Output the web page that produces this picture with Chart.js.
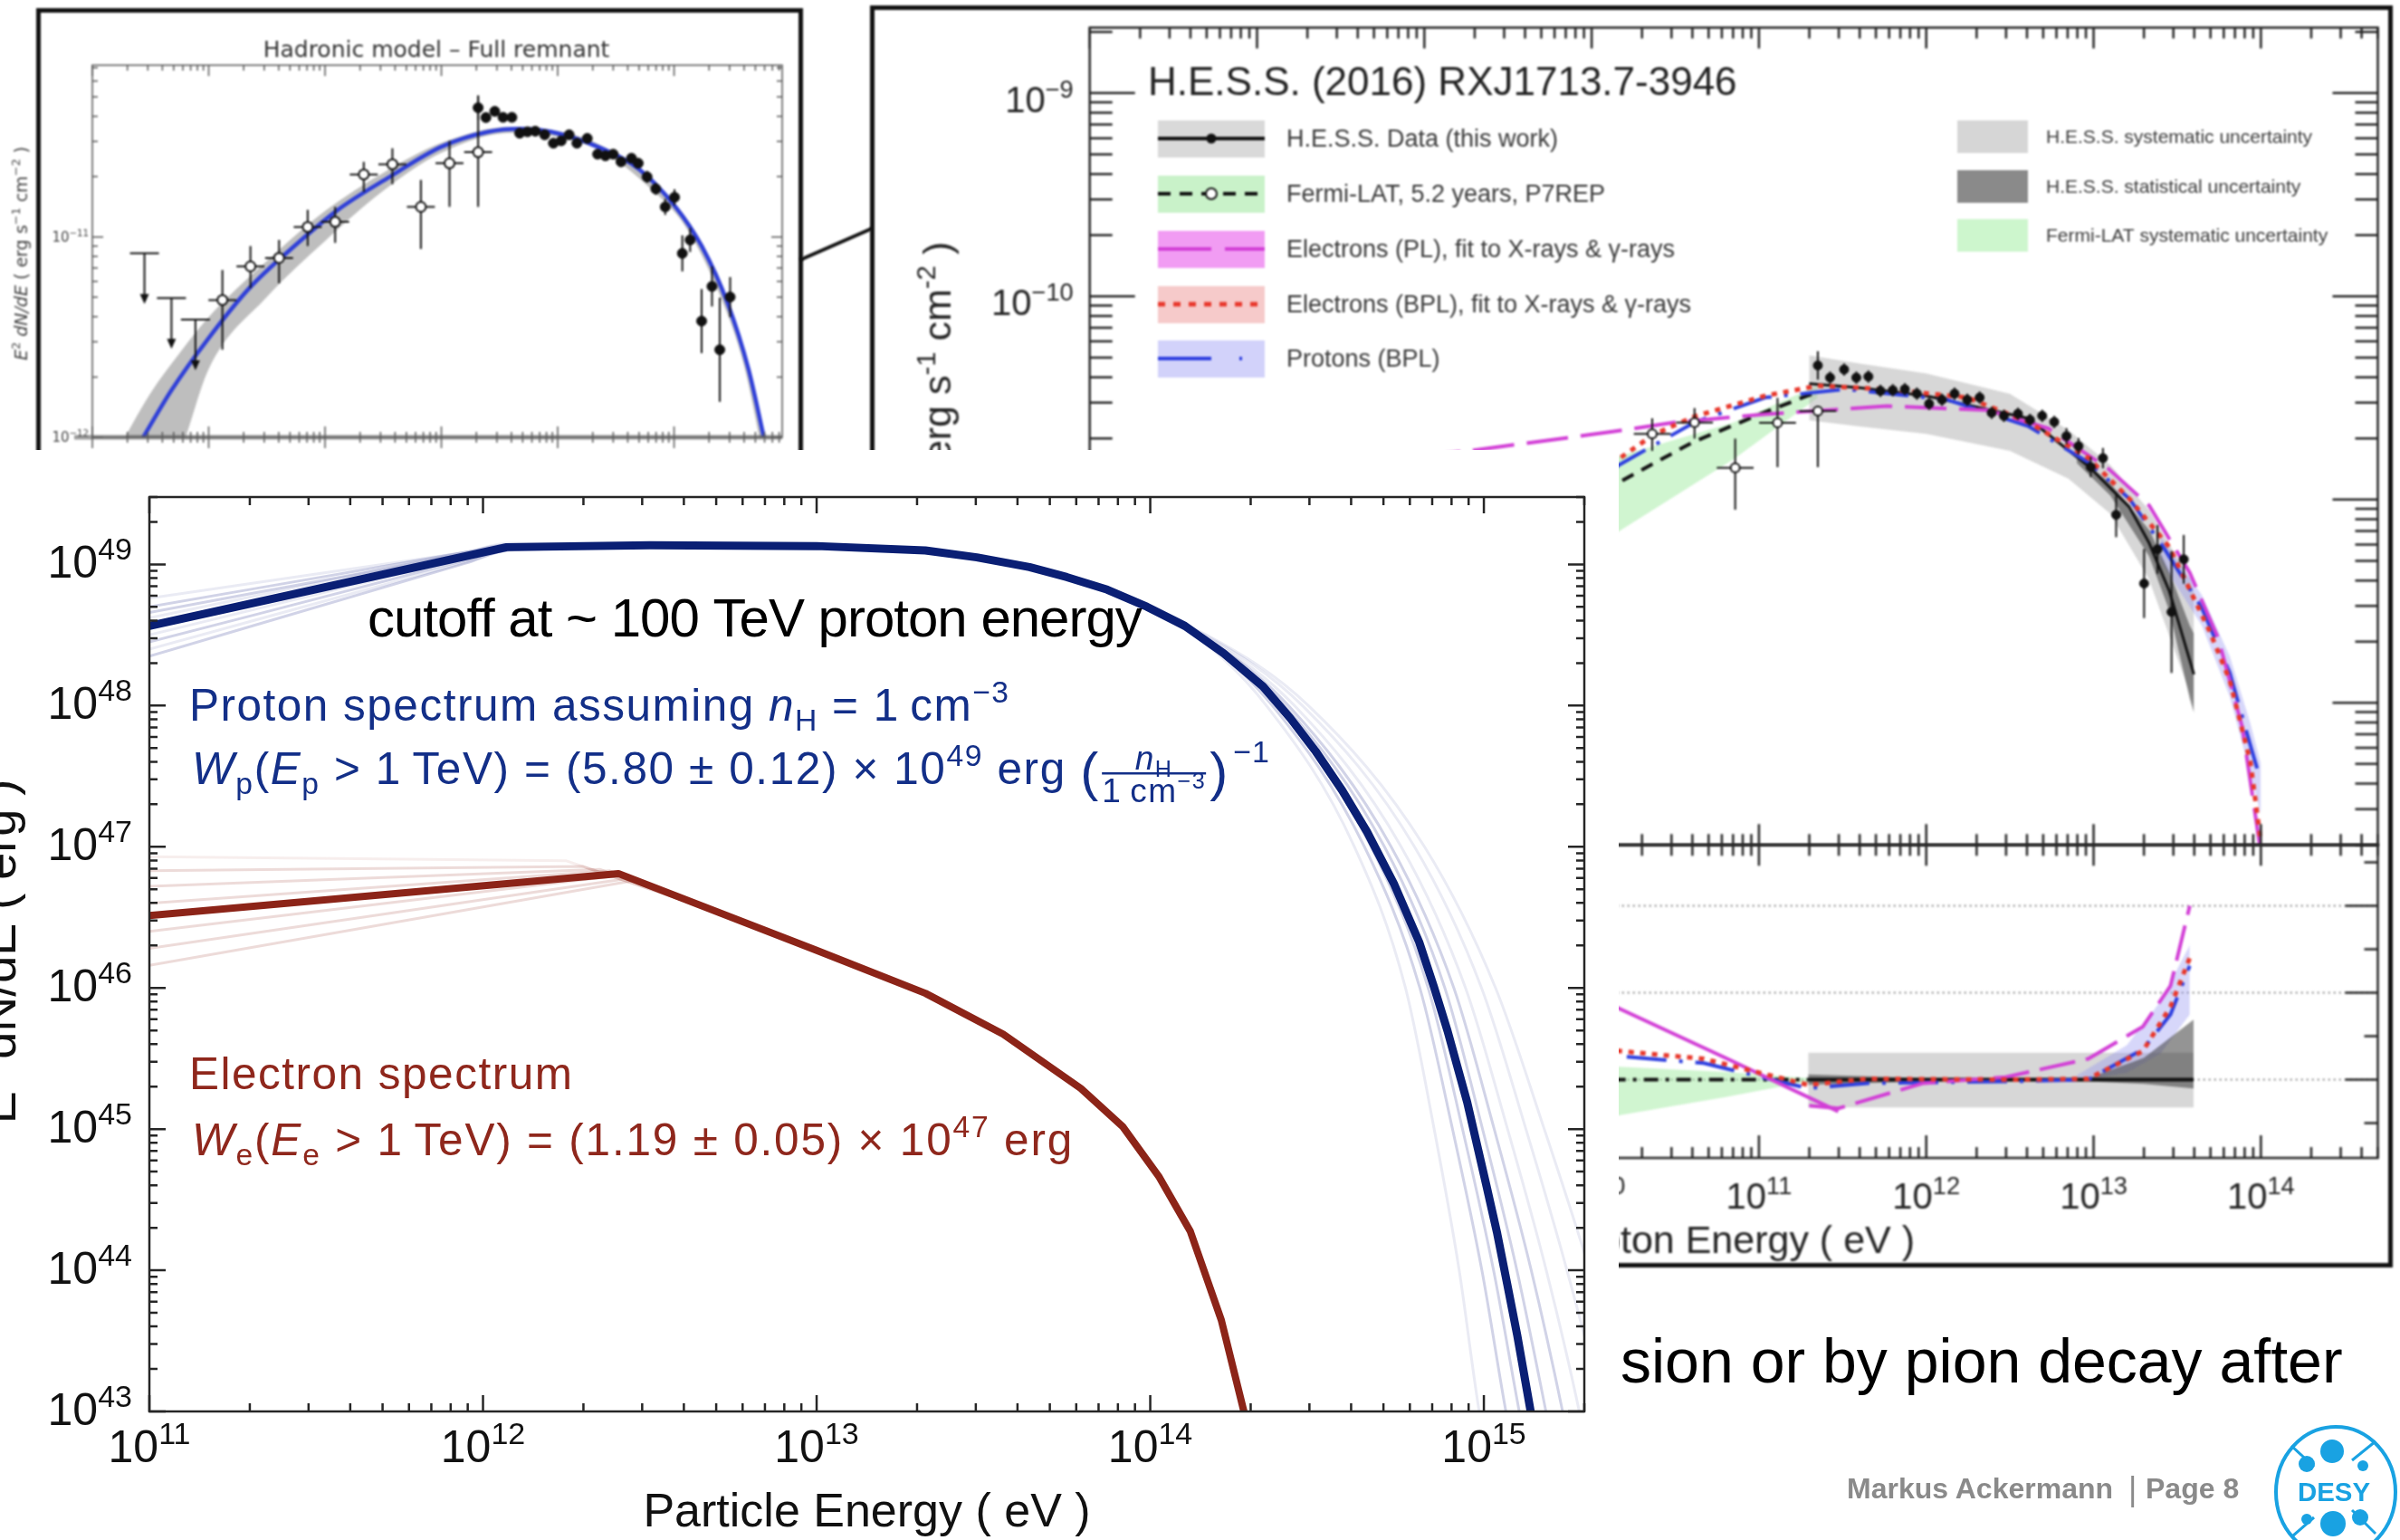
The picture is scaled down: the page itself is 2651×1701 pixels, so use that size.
<!DOCTYPE html>
<html lang="en">
<head>
<meta charset="utf-8">
<title>RX J1713.7-3946 particle spectra</title>
<script src="https://cdn.jsdelivr.net/npm/chart.js@4.4.1/dist/chart.umd.min.js"></script>
<style>
  html, body { margin: 0; padding: 0; background: #fff; }
  body { position: relative; width: 2651px; height: 1701px; overflow: hidden; }
  .frame { position: absolute; box-sizing: border-box; border: 5px solid #111; background: #fff; }
  canvas { position: absolute; }
  .soft { filter: blur(0.9px); }
  #hadFrame { left: 40px; top: 9px; width: 847px; height: 600px; }
  #hadCanvas { left: 0; top: 9px; }
  #hessFrame { left: 961px; top: 6px; width: 1682px; height: 1394px; }
  #hessCanvas, #resCanvas { left: 961px; top: 6px; }
  #mainCanvas { left: 0; top: 497px; background: #fff; }
  svg { position: absolute; left: 0; top: 0; }
</style>
</head>
<body>
<div class="frame soft" id="hadFrame"></div>
<canvas id="hadCanvas" class="soft" width="887" height="491"></canvas>
<svg class="soft" width="1000" height="400"><line x1="884" y1="287" x2="964" y2="252" stroke="#111" stroke-width="4"/></svg>
<div class="frame soft" id="hessFrame"></div>
<canvas id="hessCanvas" class="soft" width="1682" height="1394"></canvas>
<canvas id="resCanvas" class="soft" width="1682" height="1394"></canvas>
<canvas id="mainCanvas" width="1788" height="1204"></canvas>
<svg width="2651" height="1701" font-family="Liberation Sans, Arial, Helvetica, sans-serif">
  <text x="1790" y="1527" font-size="68" fill="#000">sion or by pion decay after</text>
  <text x="2040" y="1655" font-size="32" font-weight="bold" fill="#8a8a8a">Markus Ackermann</text>
  <text x="2351" y="1657" font-size="36" fill="#8a8a8a">|</text>
  <text x="2370" y="1655" font-size="32" font-weight="bold" fill="#8a8a8a">Page 8</text>
  <ellipse cx="2580" cy="1648" rx="66" ry="72" fill="none" stroke="#19a2e2" stroke-width="4"/>
  <g stroke="#19a2e2" stroke-width="3">
    <line x1="2531" y1="1597" x2="2556" y2="1620"/>
    <line x1="2598" y1="1613" x2="2624" y2="1592"/>
    <line x1="2532" y1="1697" x2="2556" y2="1676"/>
    <line x1="2598" y1="1668" x2="2624" y2="1694"/>
  </g>
  <g fill="#19a2e2">
    <circle cx="2576" cy="1603" r="13"/>
    <circle cx="2548" cy="1617" r="9"/>
    <circle cx="2610" cy="1619" r="6"/>
    <circle cx="2577" cy="1683" r="14"/>
    <circle cx="2607" cy="1676" r="9"/>
    <circle cx="2548" cy="1678" r="6"/>
  </g>
  <text x="2578" y="1658" text-anchor="middle" font-size="30" font-weight="bold" fill="#19a2e2" textLength="80" lengthAdjust="spacingAndGlyphs">DESY</text>
</svg>
<script>
const FONT = '"Liberation Sans", Arial, Helvetica, sans-serif';
const DEJAVU = '"DejaVu Sans", Verdana, sans-serif';

// ---------- main panel: E^2 dN/dE of the parent particles (log10 eV, log10 erg) ----------
const protonLogE = [11, 12.071, 12.5, 13.0, 13.326, 13.48, 13.638, 13.75, 13.871, 13.99, 14.104, 14.22, 14.338, 14.42, 14.495, 14.575, 14.65, 14.73, 14.806, 14.85, 14.891, 14.95, 15.008, 15.04, 15.07, 15.10, 15.136, 15.161];
const protonLogW = [48.564, 49.122, 49.135, 49.13, 49.099, 49.05, 48.981, 48.91, 48.821, 48.70, 48.564, 48.37, 48.135, 47.91, 47.679, 47.40, 47.105, 46.74, 46.325, 46.01, 45.696, 45.19, 44.596, 44.26, 43.902, 43.54, 43.057, 42.72];
const electronLogE = [11, 12.406, 12.995, 13.326, 13.559, 13.792, 13.917, 14.027, 14.12, 14.213, 14.28, 14.301];
const electronLogW = [46.513, 46.81, 46.27, 45.962, 45.673, 45.288, 45.019, 44.66, 44.276, 43.647, 43.006, 42.8];

// faint posterior samples: low-energy start, a point just before the break, the break,
// then the energies where each sample crosses the cutoff levels
const protonSampleLowLogW = [48.76, 48.70, 48.45, 48.35, 48.62, 48.50, 48.40, 48.66];
const protonSamplePreBreakLogW = [49.086, 49.087, 49.031, 49.010, 49.087, 49.046, 49.016, 49.074];
const protonSampleBreakLogW = [49.13, 49.14, 49.11, 49.10, 49.15, 49.12, 49.10, 49.13];
const protonSampleCutLogW = [49.0, 48.5, 48.0, 47.0, 46.0, 45.0, 44.0, 43.0, 42.5];
const protonSampleCutLogE = [
  [13.576, 14.127, 14.348, 14.612, 14.765, 14.851, 14.926, 14.986, 15.027],
  [13.582, 14.133, 14.366, 14.642, 14.808, 14.906, 14.994, 15.066, 15.107],
  [13.594, 14.145, 14.402, 14.702, 14.883, 14.996, 15.099, 15.186, 15.227],
  [13.598, 14.149, 14.414, 14.722, 14.910, 15.031, 15.142, 15.236, 15.277],
  [13.604, 14.155, 14.432, 14.752, 14.945, 15.071, 15.187, 15.286, 15.327],
  [13.612, 14.163, 14.456, 14.792, 14.993, 15.126, 15.249, 15.356, 15.397],
  [13.618, 14.169, 14.474, 14.822, 15.035, 15.181, 15.317, 15.436, 15.477],
  [13.586, 14.137, 14.378, 14.662, 14.833, 14.936, 15.029, 15.106, 15.147]
];
const protonSampleDense = [false, true, true, true, false, false, false, true];
const electronSampleStartLogW = [46.93, 46.83, 46.72, 46.60, 46.40, 46.28, 46.16];
const electronSampleBreakLogE = [12.25, 12.30, 12.35, 12.38, 12.42, 12.45, 12.45];
const electronSampleBreakLogW = [46.90, 46.86, 46.84, 46.83, 46.80, 46.78, 46.76];
const electronSampleJoin = [12.6, 46.62];

const mainXTicks = [1e11, 1e12, 1e13, 1e14, 1e15];
const mainXTickExp = ['11', '12', '13', '14', '15'];
const mainYTicks = [1e43, 1e44, 1e45, 1e46, 1e47, 1e48, 1e49];
const mainYTickExp = ['43', '44', '45', '46', '47', '48', '49'];

// ---------- H.E.S.S. SED panel (log10 eV, log10 erg s^-1 cm^-2) ----------
const hessLogE = [11.352, 11.425, 11.509, 11.582, 11.654, 11.726, 11.80, 11.872, 11.944, 12.017, 12.094, 12.169, 12.245, 12.319, 12.391, 12.464, 12.548, 12.62, 12.693, 12.765, 12.838, 12.91, 12.983, 13.056, 13.135, 13.302, 13.382, 13.466, 13.539];
const hessLogF = [-10.34, -10.40, -10.36, -10.40, -10.395, -10.465, -10.462, -10.457, -10.479, -10.529, -10.509, -10.479, -10.509, -10.498, -10.573, -10.588, -10.578, -10.608, -10.588, -10.618, -10.688, -10.737, -10.84, -10.796, -11.075, -11.413, -11.245, -11.553, -11.294];
const hessLogErr = [0.07, 0.03, 0.03, 0.03, 0.03, 0.03, 0.03, 0.03, 0.03, 0.03, 0.03, 0.03, 0.03, 0.03, 0.03, 0.03, 0.03, 0.03, 0.03, 0.03, 0.04, 0.04, 0.05, 0.05, 0.11, 0.17, 0.12, 0.30, 0.12];
const fermiLogE = [10.362, 10.615, 10.858, 11.111, 11.352];
const fermiLogF = [-10.677, -10.621, -10.844, -10.622, -10.564];
const fermiLogLo = [-10.76, -10.70, -11.05, -10.84, -10.84];
const fermiLogHi = [-10.60, -10.55, -10.70, -10.50, -10.54];
const fermiBinHalf = 0.11;

const hessFitLogE = [11.30, 11.6, 12.0, 12.608, 12.97, 13.213, 13.333, 13.454, 13.575, 13.6];
const hessFitLogF = [-10.43, -10.45, -10.49, -10.60, -10.836, -11.036, -11.215, -11.453, -11.791, -11.86];
const hessSystLogE = [11.30, 11.6, 12.0, 12.5, 12.85, 13.1, 13.33, 13.575, 13.6];
const hessSystHi = [-10.29, -10.33, -10.38, -10.48, -10.658, -10.83, -11.05, -11.39, -11.45];
const hessSystLo = [-10.61, -10.64, -10.677, -10.76, -10.897, -11.07, -11.39, -11.95, -12.02];
const hessStatLogE = [12.9, 13.1, 13.333, 13.454, 13.575, 13.6];
const hessStatHi = [-10.78, -10.92, -11.15, -11.36, -11.62, -11.66];
const hessStatLo = [-10.82, -10.98, -11.28, -11.55, -11.98, -12.05];
const fermiFitLogE = [8.0, 9.0, 10.162, 10.606, 11.038, 11.35];
const fermiFitLogF = [-11.85, -11.38, -10.916, -10.717, -10.569, -10.47];
const fermiBandLogE = [8.0, 9.0, 10.162, 10.85, 11.35];
const fermiBandHi = [-11.6, -11.2, -10.787, -10.62, -10.44];
const fermiBandLo = [-12.4, -11.8, -11.157, -10.80, -10.50];
const elPLLogE = [8.0, 9.27, 10.134, 10.497, 11.04, 11.764, 12.367, 12.73, 13.091, 13.333, 13.575, 13.744, 13.889, 13.997];
const elPLLogF = [-10.88, -10.76, -10.665, -10.62, -10.58, -10.54, -10.56, -10.65, -10.85, -11.03, -11.36, -11.68, -12.12, -12.72];
const elBPLLogE = [8.5, 9.5, 10.162, 10.371, 10.615, 11.038, 11.352, 11.764, 12.245, 12.608, 12.97, 13.214, 13.454, 13.695, 13.814, 13.937, 13.997];
const elBPLLogF = [-11.75, -11.2, -10.80, -10.68, -10.591, -10.489, -10.44, -10.457, -10.498, -10.618, -10.796, -10.996, -11.235, -11.65, -11.89, -12.29, -12.667];
const pBPLLogE = [8.5, 9.5, 10.162, 10.615, 11.038, 11.52, 12.126, 12.608, 12.97, 13.214, 13.418, 13.647, 13.814, 13.937, 13.99];
const pBPLLogF = [-11.9, -11.3, -10.83, -10.62, -10.498, -10.457, -10.509, -10.638, -10.817, -10.996, -11.235, -11.533, -11.852, -12.208, -12.358];
const pBandLogE = [13.4, 13.647, 13.814, 13.937, 14.0];
const pBandHi = [-11.18, -11.47, -11.77, -12.10, -12.30];
const pBandLo = [-11.30, -11.62, -11.97, -12.35, -12.55];

const hessYTicks = [1e-12, 1e-11, 1e-10, 1e-9];
const hessYTickExp = ['\u221212', '\u221211', '\u221210', '\u22129'];
const hessXTicks = [1e10, 1e11, 1e12, 1e13, 1e14];
const hessXTickExp = ['10', '11', '12', '13', '14'];
const hessLegendLabels = ['H.E.S.S. Data (this work)', 'Fermi-LAT, 5.2 years, P7REP', 'Electrons (PL), fit to X-rays & \u03b3-rays', 'Electrons (BPL), fit to X-rays & \u03b3-rays', 'Protons (BPL)'];
const hessBandLabels = ['H.E.S.S. systematic uncertainty', 'H.E.S.S. statistical uncertainty', 'Fermi-LAT systematic uncertainty'];

// ---------- residual panel ----------
const resSystLogE = [11.294, 13.598];
const resSystHi = [0.31, 0.31];
const resSystLo = [-0.32, -0.32];
const resStatLogE = [11.294, 12.0, 12.97, 13.3, 13.598];
const resStatHi = [0.06, 0.02, 0.02, 0.25, 0.69];
const resStatLo = [-0.06, -0.02, -0.02, -0.05, -0.10];
const resFermiLogE = [9.5, 10.162, 10.8, 11.294];
const resFermiHi = [0.22, 0.15, 0.09, 0.02];
const resFermiLo = [-0.55, -0.41, -0.2, -0.02];
const resPLFermiLogE = [9.8, 10.162, 10.8, 11.474];
const resPLFermiVal = [1.15, 0.82, 0.25, -0.365];
const resPLHessLogE = [11.30, 11.474, 11.983, 12.475, 12.968, 13.295, 13.46, 13.575];
const resPLHessVal = [-0.30, -0.33, -0.04, 0.03, 0.24, 0.61, 1.08, 2.0];
const resModelLogE = [9.8, 10.162, 10.67, 11.294, 11.65, 12.5, 12.968, 13.295, 13.46, 13.575];
const resBPLVal = [0.4, 0.33, 0.24, -0.06, 0.01, 0.0, 0.01, 0.33, 0.84, 1.4];
const resProtonVal = [0.33, 0.27, 0.19, -0.1, -0.04, -0.02, 0.0, 0.35, 0.75, 1.31];
const resPBandLogE = [12.9, 13.2, 13.4, 13.575];
const resPBandHi = [0.05, 0.4, 0.9, 1.55];
const resPBandLo = [-0.02, 0.08, 0.3, 0.75];
const resGuideLines = [0, 1, 2];

// ---------- hadronic model panel ----------
const hadFitLogE = [8.435, 8.68, 8.993, 9.35, 9.708, 10.11, 10.556, 11.0, 11.405, 11.673, 11.94, 12.343, 12.70, 13.013, 13.237, 13.46, 13.64, 13.773];
const hadFitLogF = [-12.002, -11.765, -11.51, -11.255, -11.06, -10.865, -10.70, -10.55, -10.475, -10.46, -10.475, -10.55, -10.662, -10.85, -11.045, -11.33, -11.66, -12.002];
const hadBandLogE = [8.25, 8.5, 8.75, 9.0, 9.5, 10.0, 10.5, 11.0, 11.6, 12.0, 12.4, 12.8, 13.1, 13.4, 13.6, 13.8];
const hadBandHi = [-12.03, -11.78, -11.58, -11.40, -11.12, -10.87, -10.68, -10.53, -10.45, -10.47, -10.55, -10.72, -10.90, -11.22, -11.56, -12.1];
const hadBandLo = [-12.6, -12.3, -12.08, -11.66, -11.30, -11.02, -10.77, -10.58, -10.48, -10.50, -10.58, -10.76, -10.95, -11.30, -11.64, -12.2];
const hadUlLogE = [8.448, 8.68, 8.886];
const hadUlLogF = [-11.082, -11.305, -11.413];
const hadLatLogE = [9.118, 9.359, 9.605, 9.851, 10.087, 10.333, 10.579, 10.824, 11.07, 11.316];
const hadLatLogF = [-11.315, -11.147, -11.105, -10.95, -10.925, -10.688, -10.637, -10.85, -10.632, -10.577];
const hadLatLo = [-11.563, -11.255, -11.232, -11.045, -11.03, -10.775, -10.737, -11.06, -10.85, -10.85];
const hadLatHi = [-11.165, -11.045, -11.015, -10.865, -10.85, -10.625, -10.557, -10.715, -10.52, -10.294];
const hadLatBinHalf = 0.12;
const hadHessLogE = [11.316, 11.383, 11.459, 11.53, 11.606, 11.673, 11.74, 11.807, 11.888, 11.963, 12.03, 12.098, 12.165, 12.254, 12.343, 12.41, 12.477, 12.544, 12.634, 12.692, 12.768, 12.843, 12.924, 13.004, 13.071, 13.138, 13.237, 13.326, 13.393, 13.482];
const hadHessLogF = [-10.355, -10.404, -10.373, -10.403, -10.403, -10.482, -10.475, -10.472, -10.49, -10.532, -10.52, -10.49, -10.532, -10.508, -10.587, -10.595, -10.587, -10.625, -10.607, -10.632, -10.7, -10.76, -10.85, -10.802, -11.082, -11.015, -11.42, -11.247, -11.563, -11.30];
const hadHessErr = [0.06, 0.02, 0.02, 0.02, 0.02, 0.02, 0.02, 0.02, 0.02, 0.02, 0.02, 0.02, 0.02, 0.02, 0.02, 0.02, 0.02, 0.02, 0.02, 0.02, 0.03, 0.03, 0.04, 0.04, 0.09, 0.06, 0.16, 0.1, 0.26, 0.1];
const hadYTicks = [1e-12, 1e-11];
const hadYTickExp = ['\u221212', '\u221211'];

Chart.defaults.animation = false;
Chart.defaults.responsive = false;
Chart.defaults.maintainAspectRatio = false;
Chart.defaults.devicePixelRatio = 1;
Chart.defaults.events = [];
Chart.defaults.plugins.legend.display = false;
Chart.defaults.plugins.tooltip.enabled = false;

const toPts = (lx, ly) => lx.map((e, i) => ({ x: 10 ** e, y: 10 ** ly[i] }));
const toLin = (lx, v) => lx.map((e, i) => ({ x: 10 ** e, y: v[i] }));

function curve(data, color, width, more) {
  return Object.assign({
    data, showLine: true, borderColor: color, borderWidth: width, pointRadius: 0,
    fill: false, tension: 0, clip: 0, borderJoinStyle: 'round', order: 5
  }, more || {});
}
function band(upper, lower, color, order, more) {
  const base = { showLine: true, borderWidth: 0, borderColor: 'rgba(0,0,0,0)', pointRadius: 0, clip: 0, order: order || 20 };
  return [
    Object.assign({ data: upper, fill: '+1', backgroundColor: color }, base, more || {}),
    Object.assign({ data: lower, fill: false }, base, more || {})
  ];
}

function logTicks(min, max) {
  const out = [];
  const lo = Math.floor(Math.log10(min)), hi = Math.ceil(Math.log10(max));
  for (let p = lo; p <= hi; p++) {
    for (let k = 1; k < 10; k++) {
      const v = k * Math.pow(10, p);
      if (v >= min * 0.999 && v <= max * 1.001) out.push({ v, major: k === 1 });
    }
  }
  return out;
}

// text with italic / sub / superscript pieces, drawn from a baseline
function segFont(s, size, family) {
  const fs = s.size || (s.sup || s.sub ? size * 0.68 : size);
  return (s.it ? 'italic ' : '') + (s.bold ? 'bold ' : '') + fs + 'px ' + family;
}
function measureRich(ctx, parts, size, spacing, family) {
  family = family || FONT;
  ctx.save();
  ctx.letterSpacing = (spacing || 0) + 'px';
  let w = 0;
  parts.forEach(p => {
    const s = typeof p === 'string' ? { t: p } : p;
    ctx.font = segFont(s, size, family);
    w += ctx.measureText(s.t).width;
  });
  ctx.restore();
  return w;
}
function richText(ctx, x, y, parts, size, color, align, spacing, family) {
  family = family || FONT;
  const segs = parts.map(p => (typeof p === 'string' ? { t: p } : Object.assign({}, p)));
  ctx.save();
  ctx.letterSpacing = (spacing || 0) + 'px';
  ctx.textAlign = 'left';
  ctx.textBaseline = 'alphabetic';
  ctx.fillStyle = color;
  let total = 0;
  segs.forEach(s => { ctx.font = segFont(s, size, family); s.w = ctx.measureText(s.t).width; total += s.w; });
  let cx = align === 'right' ? x - total : align === 'center' ? x - total / 2 : x;
  segs.forEach(s => {
    ctx.font = segFont(s, size, family);
    const dy = s.sup ? -size * 0.4 : s.sub ? size * 0.22 : 0;
    ctx.fillText(s.t, cx, y + dy);
    cx += s.w;
  });
  ctx.restore();
  return cx;
}

// error bars, energy bins and upper-limit arrows for point datasets
const errorBars = {
  id: 'errorBars',
  beforeDatasetDraw(chart, args) {
    const ds = chart.data.datasets[args.index];
    if (!ds.errY && !ds.binHalf && !ds.upperLimit) return;
    const { ctx, scales: { x, y } } = chart;
    ctx.save();
    ctx.strokeStyle = ds.errColor || '#111';
    ctx.fillStyle = ds.errColor || '#111';
    ctx.lineWidth = ds.errWidth || 2;
    ds.data.forEach((p, i) => {
      const px = x.getPixelForValue(p.x), py = y.getPixelForValue(p.y);
      ctx.beginPath();
      if (ds.errY) {
        ctx.moveTo(px, y.getPixelForValue(ds.errY[i][0]));
        ctx.lineTo(px, y.getPixelForValue(ds.errY[i][1]));
      }
      if (ds.binHalf) {
        const f = 10 ** ds.binHalf;
        ctx.moveTo(x.getPixelForValue(p.x / f), py);
        ctx.lineTo(x.getPixelForValue(p.x * f), py);
      }
      if (ds.upperLimit) {
        ctx.moveTo(px - 16, py); ctx.lineTo(px + 16, py);
        ctx.moveTo(px, py); ctx.lineTo(px, py + 48);
      }
      ctx.stroke();
      if (ds.upperLimit) {
        ctx.beginPath();
        ctx.moveTo(px - 5, py + 45); ctx.lineTo(px + 5, py + 45); ctx.lineTo(px, py + 56);
        ctx.closePath(); ctx.fill();
      }
    });
    ctx.restore();
  }
};

// ================= main chart =================
const PROTON = '#0a1f74';
const PROTON_TXT = '#132f88';
const ELECTRON = '#8c2418';
const ELECTRON_TXT = '#8f271c';

const mainDatasets = [
  curve(toPts(protonLogE, protonLogW), PROTON, 9, { order: 1 }),
  curve(toPts(electronLogE, electronLogW), ELECTRON, 8, { order: 2 })
];
protonSampleCutLogE.forEach((cut, i) => {
  const lx = [11, 11.95, 12.079, 13.0].concat(cut);
  const ly = [protonSampleLowLogW[i], protonSamplePreBreakLogW[i], protonSampleBreakLogW[i], 49.13].concat(protonSampleCutLogW);
  mainDatasets.push(curve(toPts(lx, ly), protonSampleDense[i] ? 'rgba(25,35,135,0.2)' : 'rgba(25,35,135,0.09)', 3,
    { order: 8, cubicInterpolationMode: 'monotone' }));
});
electronSampleStartLogW.forEach((w0, i) => {
  const pts = toPts([11, electronSampleBreakLogE[i], electronSampleJoin[0]], [w0, electronSampleBreakLogW[i], electronSampleJoin[1]]);
  mainDatasets.push(curve(pts, i === 0 ? 'rgba(150,40,30,0.08)' : 'rgba(150,40,30,0.17)', 3, { order: 9 }));
});

const mainDecor = {
  id: 'mainDecor',
  afterDatasetsDraw(chart) {
    const { ctx, chartArea: a, scales: { x, y } } = chart;

    // annotations
    richText(ctx, 406, 206, ['cutoff at ~ 100 TeV proton energy'], 60, '#000', 'left', -1);
    richText(ctx, 209, 299, ['Proton spectrum assuming ', { t: 'n', it: true }, { t: 'H', sub: true }, ' = 1\u2009cm', { t: '\u22123', sup: true }], 49.5, PROTON_TXT, 'left', 1.5);
    let cx = richText(ctx, 212, 369, [{ t: 'W', it: true }, { t: 'p', sub: true }, '(', { t: 'E', it: true }, { t: 'p', sub: true },
      ' > 1\u2009TeV) = (5.80 \u00b1 0.12) \u00d7 10', { t: '49', sup: true }, ' erg '], 49.5, PROTON_TXT, 'left', 1.6);
    ctx.save();
    ctx.fillStyle = PROTON_TXT;
    ctx.font = '60px ' + FONT;
    ctx.fillText('(', cx, 376);
    cx += ctx.measureText('(').width + 4;
    const den = ['1\u2009cm', { t: '\u22123', sup: true }];
    const denW = measureRich(ctx, den, 37, 1.5);
    const barY = 357;
    richText(ctx, cx + denW / 2, barY - 4, [{ t: 'n', it: true }, { t: 'H', sub: true }], 37, PROTON_TXT, 'center', 1.5);
    richText(ctx, cx, barY + 32, den, 37, PROTON_TXT, 'left', 1.5);
    ctx.fillRect(cx, barY - 1, denW, 2.5);
    cx += denW + 4;
    ctx.font = '60px ' + FONT;
    ctx.fillText(')', cx, 376);
    cx += ctx.measureText(')').width + 6;
    ctx.restore();
    richText(ctx, cx, 345, ['\u22121'], 34, PROTON_TXT, 'left', 1);

    richText(ctx, 209, 706, ['Electron spectrum'], 49.5, ELECTRON_TXT, 'left', 1.5);
    richText(ctx, 212, 779, [{ t: 'W', it: true }, { t: 'e', sub: true }, '(', { t: 'E', it: true }, { t: 'e', sub: true },
      ' > 1\u2009TeV) = (1.19 \u00b1 0.05) \u00d7 10', { t: '47', sup: true }, ' erg'], 49.5, ELECTRON_TXT, 'left', 1.8);

    // frame with inward ticks on all four sides
    ctx.save();
    ctx.strokeStyle = '#262626';
    ctx.lineWidth = 2.5;
    ctx.strokeRect(a.left, a.top, a.right - a.left, a.bottom - a.top);
    ctx.beginPath();
    logTicks(x.min, x.max).forEach(t => {
      const px = x.getPixelForValue(t.v), L = t.major ? 18 : 9;
      ctx.moveTo(px, a.bottom); ctx.lineTo(px, a.bottom - L);
      ctx.moveTo(px, a.top); ctx.lineTo(px, a.top + L);
    });
    logTicks(y.min, y.max).forEach(t => {
      const py = y.getPixelForValue(t.v), L = t.major ? 18 : 9;
      ctx.moveTo(a.left, py); ctx.lineTo(a.left + L, py);
      ctx.moveTo(a.right, py); ctx.lineTo(a.right - L, py);
    });
    ctx.stroke();
    ctx.restore();

    mainYTicks.forEach((v, i) => richText(ctx, a.left - 19, y.getPixelForValue(v) + 15, ['10', { t: mainYTickExp[i], sup: true }], 50, '#111', 'right'));
    mainXTicks.forEach((v, i) => richText(ctx, x.getPixelForValue(v), a.bottom + 56, ['10', { t: mainXTickExp[i], sup: true }], 50, '#111', 'center'));
    richText(ctx, (a.left + a.right) / 2, 1189, ['Particle Energy ( eV )'], 52, '#111', 'center');

    ctx.save();
    ctx.translate(17, 554);
    ctx.rotate(-Math.PI / 2);
    richText(ctx, 0, 0, ['E', { t: '2', sup: true }, ' dN/dE ( erg )'], 54, '#111', 'center');
    ctx.restore();
  }
};

new Chart(document.getElementById('mainCanvas'), {
  type: 'line',
  data: { datasets: mainDatasets },
  options: {
    layout: { padding: { left: 165, top: 52, right: 38, bottom: 142 } },
    scales: {
      x: { type: 'logarithmic', min: 1e11, max: 2e15, display: false },
      y: { type: 'logarithmic', min: 1e43, max: 3e49, display: false }
    }
  },
  plugins: [mainDecor]
});

// ================= H.E.S.S. SED =================
const INK = '#262626';
const MAGENTA = '#d23fd6';
const RED = '#e8372b';
const BLUE = '#2e3fe0';

const hessDatasets = [
  {
    data: toPts(hessLogE, hessLogF), showLine: false, pointRadius: 5, pointBackgroundColor: '#111', pointBorderColor: '#111', order: 1, clip: 0,
    errY: hessLogE.map((e, i) => [10 ** (hessLogF[i] - hessLogErr[i]), 10 ** (hessLogF[i] + hessLogErr[i])])
  },
  {
    data: toPts(fermiLogE, fermiLogF), showLine: false, pointRadius: 5, pointBackgroundColor: '#fff', pointBorderColor: '#111', pointBorderWidth: 2, order: 1, clip: 0,
    errY: fermiLogE.map((e, i) => [10 ** fermiLogLo[i], 10 ** fermiLogHi[i]]), binHalf: fermiBinHalf
  },
  curve(toPts(hessFitLogE, hessFitLogF), '#111', 3, { order: 4 }),
  curve(toPts(elPLLogE, elPLLogF), MAGENTA, 4, { borderDash: [46, 14], order: 3 }),
  curve(toPts(elBPLLogE, elBPLLogF), RED, 5, { borderDash: [6, 7], order: 2 }),
  curve(toPts(pBPLLogE, pBPLLogF), BLUE, 4, { borderDash: [44, 14, 4, 14], order: 3 }),
  curve(toPts(fermiFitLogE, fermiFitLogF), '#111', 4, { borderDash: [14, 10], order: 3 }),
  ...band(toPts(hessStatLogE, hessStatHi), toPts(hessStatLogE, hessStatLo), 'rgba(60,60,60,0.55)', 15),
  ...band(toPts(pBandLogE, pBandHi), toPts(pBandLogE, pBandLo), 'rgba(140,140,240,0.35)', 16),
  ...band(toPts(hessSystLogE, hessSystHi), toPts(hessSystLogE, hessSystLo), 'rgba(175,175,175,0.5)', 20),
  ...band(toPts(fermiBandLogE, fermiBandHi), toPts(fermiBandLogE, fermiBandLo), 'rgba(150,232,150,0.45)', 20)
];

function drawSwatchLine(ctx, x0, x1, y, color, width, dash) {
  ctx.save();
  ctx.strokeStyle = color; ctx.lineWidth = width; ctx.setLineDash(dash || []);
  ctx.beginPath(); ctx.moveTo(x0, y); ctx.lineTo(x1, y); ctx.stroke();
  ctx.restore();
}

const hessDecor = {
  id: 'hessDecor',
  afterDraw(chart) {
    const { ctx, chartArea: a, scales: { x, y } } = chart;
    ctx.save();
    ctx.strokeStyle = INK;
    ctx.lineWidth = 2.5;
    ctx.strokeRect(a.left, a.top, a.right - a.left, a.bottom - a.top);
    ctx.beginPath();
    logTicks(x.min, x.max).forEach(t => {
      const px = x.getPixelForValue(t.v), L = t.major ? 23 : 12;
      ctx.moveTo(px, a.top); ctx.lineTo(px, a.top + L);
      ctx.moveTo(px, a.bottom); ctx.lineTo(px, a.bottom - L);
    });
    logTicks(y.min, y.max).forEach(t => {
      const py = y.getPixelForValue(t.v), L = t.major ? 50 : 25;
      ctx.moveTo(a.left, py); ctx.lineTo(a.left + L, py);
      ctx.moveTo(a.right, py); ctx.lineTo(a.right - L, py);
    });
    ctx.stroke();
    ctx.restore();

    hessYTicks.forEach((v, i) => richText(ctx, a.left - 18, y.getPixelForValue(v) + 21, ['10', { t: hessYTickExp[i], sup: true }], 40, INK, 'right'));

    ctx.save();
    ctx.translate(89, 261);
    ctx.rotate(-Math.PI / 2);
    richText(ctx, 0, 0, ['E', { t: '2', sup: true }, ' dN/dE ( erg s', { t: '-1', sup: true }, ' cm', { t: '-2', sup: true }, ' )'], 43, INK, 'right');
    ctx.restore();

    richText(ctx, 307, 99, ['H.E.S.S. (2016) RXJ1713.7-3946'], 44, '#222');

    // legend: model curves and data
    const rows = [147, 208, 269, 330, 390];
    const fills = ['#d9d9d9', '#c9f2c9', '#f19cf3', '#f6caca', '#d2d2fa'];
    const sx0 = 318, sx1 = 436;
    rows.forEach((cy, i) => {
      ctx.fillStyle = fills[i];
      ctx.fillRect(sx0, cy - 20, sx1 - sx0, 41);
      richText(ctx, 460, cy + 9, [hessLegendLabels[i]], 27, '#3a3a3a');
    });
    drawSwatchLine(ctx, sx0, sx1, rows[0], '#111', 4);
    ctx.fillStyle = '#111';
    ctx.beginPath(); ctx.arc((sx0 + sx1) / 2, rows[0], 5.5, 0, 2 * Math.PI); ctx.fill();
    drawSwatchLine(ctx, sx0, sx1, rows[1], '#111', 4, [14, 10]);
    ctx.fillStyle = '#fff'; ctx.strokeStyle = '#111'; ctx.lineWidth = 2;
    ctx.beginPath(); ctx.arc((sx0 + sx1) / 2, rows[1], 6, 0, 2 * Math.PI); ctx.fill(); ctx.stroke();
    drawSwatchLine(ctx, sx0, sx1, rows[2], MAGENTA, 4, [59, 15]);
    drawSwatchLine(ctx, sx0, sx1, rows[3], RED, 5, [8, 9]);
    drawSwatchLine(ctx, sx0, sx1, rows[4], BLUE, 4, [59, 31, 3, 31]);

    // legend: uncertainty bands
    const brows = [145, 200, 254];
    const bfills = ['#d6d6d6', '#8a8a8a', '#cdf6cd'];
    brows.forEach((cy, i) => {
      ctx.fillStyle = bfills[i];
      ctx.fillRect(1201, cy - 18, 78, 36);
      richText(ctx, 1299, cy + 7, [hessBandLabels[i]], 21, '#3a3a3a');
    });
  }
};

new Chart(document.getElementById('hessCanvas'), {
  type: 'line',
  data: { datasets: hessDatasets },
  options: {
    layout: { padding: { left: 242.7, top: 24.5, right: 16.5, bottom: 466.8 } },
    scales: {
      x: { type: 'logarithmic', min: 1e7, max: 5e14, display: false },
      y: { type: 'logarithmic', min: 2e-13, max: 2.1e-9, display: false }
    }
  },
  plugins: [errorBars, hessDecor]
});

// ================= residuals =================
const resDatasets = [
  curve(toLin(resPLFermiLogE, resPLFermiVal), MAGENTA, 4, { order: 3 }),
  curve(toLin(resPLHessLogE, resPLHessVal), MAGENTA, 4, { borderDash: [40, 12], order: 3 }),
  curve(toLin(resModelLogE, resBPLVal), RED, 5, { borderDash: [6, 7], order: 2 }),
  curve(toLin(resModelLogE, resProtonVal), BLUE, 4, { borderDash: [44, 14, 4, 14], order: 3 }),
  curve(toLin([11.294, 13.598], [0, 0]), '#111', 4, { order: 4 }),
  curve(toLin([7, 11.294], [0, 0]), '#111', 4, { borderDash: [16, 8, 4, 8], order: 4 }),
  ...band(toLin(resStatLogE, resStatHi), toLin(resStatLogE, resStatLo), 'rgba(60,60,60,0.55)', 15),
  ...band(toLin(resPBandLogE, resPBandHi), toLin(resPBandLogE, resPBandLo), 'rgba(140,140,240,0.35)', 16),
  ...band(toLin(resSystLogE, resSystHi), toLin(resSystLogE, resSystLo), 'rgba(175,175,175,0.5)', 20),
  ...band(toLin(resFermiLogE, resFermiHi), toLin(resFermiLogE, resFermiLo), 'rgba(150,232,150,0.45)', 20)
];

const resDecor = {
  id: 'resDecor',
  beforeDatasetsDraw(chart) {
    const { ctx, chartArea: a, scales: { y } } = chart;
    ctx.save();
    ctx.strokeStyle = '#8a8a8a'; ctx.lineWidth = 2; ctx.setLineDash([2, 4]);
    resGuideLines.forEach(v => {
      const py = y.getPixelForValue(v);
      ctx.beginPath(); ctx.moveTo(a.left, py); ctx.lineTo(a.right, py); ctx.stroke();
    });
    ctx.restore();
  },
  afterDraw(chart) {
    const { ctx, chartArea: a, scales: { x, y } } = chart;
    ctx.save();
    ctx.strokeStyle = INK;
    ctx.lineWidth = 2.5;
    ctx.strokeRect(a.left, a.top, a.right - a.left, a.bottom - a.top);
    ctx.beginPath();
    logTicks(x.min, x.max).forEach(t => {
      const px = x.getPixelForValue(t.v);
      ctx.moveTo(px, a.top); ctx.lineTo(px, a.top + (t.major ? 23 : 12));
      ctx.moveTo(px, a.bottom); ctx.lineTo(px, a.bottom - (t.major ? 25 : 12));
    });
    for (let v = -0.5; v <= 2.5; v += 0.5) {
      const py = y.getPixelForValue(v), L = Number.isInteger(v) ? 36 : 15;
      ctx.moveTo(a.right, py); ctx.lineTo(a.right - L, py);
      ctx.moveTo(a.left, py); ctx.lineTo(a.left + L, py);
    }
    ctx.stroke();
    ctx.restore();
    hessXTicks.forEach((v, i) => richText(ctx, x.getPixelForValue(v), a.bottom + 56, ['10', { t: hessXTickExp[i], sup: true }], 40, INK, 'center'));
    richText(ctx, 1154, 1378, ['Photon Energy ( eV )'], 43, INK, 'right');
  }
};

new Chart(document.getElementById('resCanvas'), {
  type: 'line',
  data: { datasets: resDatasets },
  options: {
    layout: { padding: { left: 242.7, top: 927.2, right: 16.5, bottom: 121 } },
    scales: {
      x: { type: 'logarithmic', min: 1e7, max: 5e14, display: false },
      y: { type: 'linear', min: -0.9, max: 2.7, display: false }
    }
  },
  plugins: [resDecor]
});

// ================= hadronic model =================
const hadDatasets = [
  {
    data: toPts(hadHessLogE, hadHessLogF), showLine: false, pointRadius: 5.5, pointBackgroundColor: '#111', pointBorderColor: '#111', order: 1, clip: 0,
    errY: hadHessLogE.map((e, i) => [10 ** (hadHessLogF[i] - hadHessErr[i]), 10 ** (hadHessLogF[i] + hadHessErr[i])])
  },
  {
    data: toPts(hadLatLogE, hadLatLogF), showLine: false, pointRadius: 5.5, pointBackgroundColor: '#fff', pointBorderColor: '#111', pointBorderWidth: 2, order: 1, clip: 0,
    errY: hadLatLogE.map((e, i) => [10 ** hadLatLo[i], 10 ** hadLatHi[i]]), binHalf: hadLatBinHalf
  },
  { data: toPts(hadUlLogE, hadUlLogF), showLine: false, pointRadius: 0, upperLimit: true, order: 1, clip: 0 },
  curve(toPts(hadFitLogE, hadFitLogF), '#2f3fd8', 4.5, { cubicInterpolationMode: 'monotone', order: 3 }),
  ...band(toPts(hadBandLogE, hadBandHi), toPts(hadBandLogE, hadBandLo), 'rgba(125,125,125,0.5)', 20, { cubicInterpolationMode: 'monotone' })
];

const hadDecor = {
  id: 'hadDecor',
  afterDraw(chart) {
    const { ctx, chartArea: a, scales: { x, y } } = chart;
    ctx.save();
    ctx.strokeStyle = '#555';
    ctx.lineWidth = 1.5;
    ctx.strokeRect(a.left, a.top, a.right - a.left, a.bottom - a.top);
    ctx.beginPath();
    logTicks(x.min, x.max).forEach(t => {
      const px = x.getPixelForValue(t.v), L = t.major ? 12 : 6;
      ctx.moveTo(px, a.top); ctx.lineTo(px, a.top + L);
      ctx.moveTo(px, a.bottom - L); ctx.lineTo(px, a.bottom + L);
    });
    logTicks(y.min, y.max).forEach(t => {
      const py = y.getPixelForValue(t.v), L = t.major ? 12 : 6;
      ctx.moveTo(a.left, py); ctx.lineTo(a.left + L, py);
      ctx.moveTo(a.right, py); ctx.lineTo(a.right - L, py);
    });
    ctx.stroke();
    ctx.strokeStyle = 'rgba(90,90,90,0.6)'; ctx.lineWidth = 5;
    ctx.beginPath(); ctx.moveTo(a.left - 20, a.bottom); ctx.lineTo(a.right, a.bottom); ctx.stroke();
    ctx.restore();
    hadYTicks.forEach((v, i) => richText(ctx, 98, y.getPixelForValue(v) + 5, ['10', { t: hadYTickExp[i], sup: true }], 15, '#444', 'right', 0, DEJAVU));
    richText(ctx, 482, 54, ['Hadronic model \u2013 Full remnant'], 25, '#333', 'center', 0, DEJAVU);
    ctx.save();
    ctx.translate(30, 271);
    ctx.rotate(-Math.PI / 2);
    richText(ctx, 0, 0, [{ t: 'E', it: true }, { t: '2', sup: true }, { t: ' dN/dE', it: true }, ' ( erg s', { t: '\u22121', sup: true }, ' cm', { t: '\u22122', sup: true }, ' )'], 19, '#444', 'center', 0, DEJAVU);
    ctx.restore();
  }
};

new Chart(document.getElementById('hadCanvas'), {
  type: 'line',
  data: { datasets: hadDatasets },
  options: {
    layout: { padding: { left: 102, top: 63, right: 23, bottom: 17 } },
    scales: {
      x: { type: 'logarithmic', min: 1e8, max: 8.5e13, display: false },
      y: { type: 'logarithmic', min: 1e-12, max: 7.2e-11, display: false }
    }
  },
  plugins: [errorBars, hadDecor]
});
</script>
</body>
</html>
